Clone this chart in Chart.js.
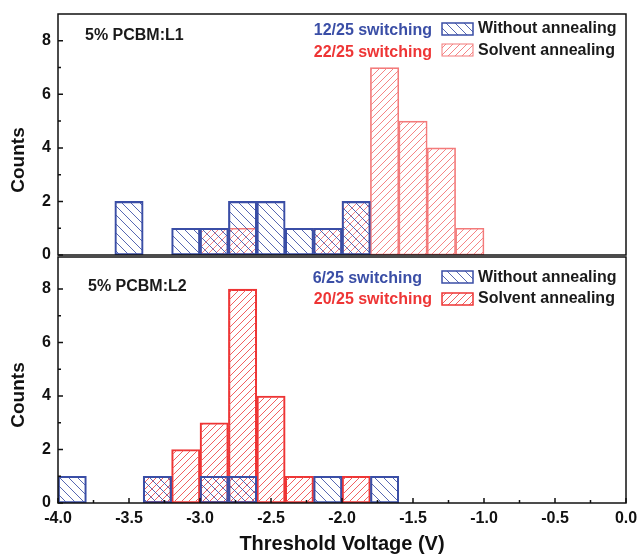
<!DOCTYPE html>
<html lang="en">
<head>
    <meta charset="UTF-8">
    <title>Threshold Voltage histogram</title>
    <script src="https://cdn.jsdelivr.net/npm/chart.js"></script>
    <style>
        body { margin: 0; background: #fff; }
        .wrap { position: relative; width: 639px; height: 554px; overflow: hidden; }
        canvas { position: absolute; left: 0; }
        #top { top: 0; z-index: 2; }
        #bottom { top: 256px; z-index: 1; }
    </style>
</head>
<body>
<div class="wrap">
    <canvas id="top" width="639" height="266"></canvas>
    <canvas id="bottom" width="639" height="298"></canvas>
</div>
<script>
    // bin centres of the 0.2 V bins (-4.0 ... -1.0)
    const binCenters = [-3.9, -3.7, -3.5, -3.3, -3.1, -2.9, -2.7, -2.5, -2.3, -2.1, -1.9, -1.7, -1.5, -1.3, -1.1];
    const l1Without = [0, 0, 2, 0, 1, 1, 2, 2, 1, 1, 2, 0, 0, 0, 0];
    const l1Solvent = [0, 0, 0, 0, 0, 1, 1, 0, 0, 1, 2, 7, 5, 4, 1];
    const l2Without = [1, 0, 0, 1, 0, 1, 1, 0, 0, 1, 0, 1, 0, 0, 0];
    const l2Solvent = [0, 0, 0, 1, 2, 3, 8, 4, 1, 0, 1, 0, 0, 0, 0];

    const BLUE = '#3a4ea6';
    const RED = '#ee3535';
    const FONT = '"Liberation Sans", Arial, sans-serif';

    function hatch(color, size, dir) {
        const c = document.createElement('canvas');
        c.width = c.height = size;
        const g = c.getContext('2d');
        g.strokeStyle = color;
        g.lineWidth = 1;
        g.beginPath();
        if (dir > 0) {          // "/"
            g.moveTo(-1, size + 1); g.lineTo(size + 1, -1);
            g.moveTo(-1, 1); g.lineTo(1, -1);
            g.moveTo(size - 1, size + 1); g.lineTo(size + 1, size - 1);
        } else {                // "\"
            g.moveTo(-1, -1); g.lineTo(size + 1, size + 1);
            g.moveTo(size - 1, -1); g.lineTo(size + 1, 1);
            g.moveTo(-1, size - 1); g.lineTo(1, size + 1);
        }
        g.stroke();
        return g.createPattern(c, 'repeat');
    }

    const blueHatch = hatch('rgba(58,78,166,0.85)', 9, -1);
    const redHatchLight = hatch('#f58585', 7, 1);
    const redHatch = hatch('#f16060', 7, 1);

    function toPoints(counts) {
        return binCenters.map((x, i) => ({ x: x, y: counts[i] ? counts[i] : null }));
    }

    function noPadding(s) {
        s.paddingTop = 0;
        s.paddingBottom = 0;
        s.paddingLeft = 0;
        s.paddingRight = 0;
    }

    // frame, inward ticks, annotations and legend boxes
    const decor = {
        id: 'decor',
        afterDatasetsDraw(chart, args, o) {
            const ctx = chart.ctx;
            const a = chart.chartArea;
            const xs = chart.scales.x, ys = chart.scales.y;
            ctx.save();
            ctx.strokeStyle = '#111';
            ctx.lineWidth = 1.5;
            ctx.strokeRect(a.left, a.top, a.right - a.left, a.bottom - a.top);

            ctx.beginPath();
            ys.ticks.forEach(t => {
                if (t.value > 8.5) return;
                const py = ys.getPixelForValue(t.value);
                const len = t.value % 2 === 0 ? 5 : 3;
                ctx.moveTo(a.left, py); ctx.lineTo(a.left + len, py);
            });
            if (o.xTicks) {
                xs.ticks.forEach(t => {
                    const px = xs.getPixelForValue(t.value);
                    const major = Math.abs(t.value * 2 - Math.round(t.value * 2)) < 1e-6;
                    ctx.moveTo(px, a.bottom); ctx.lineTo(px, a.bottom - (major ? 5 : 3));
                });
            }
            ctx.stroke();

            // text annotations
            ctx.font = 'bold 16px ' + FONT;
            ctx.textBaseline = 'alphabetic';
            o.texts.forEach(t => {
                ctx.fillStyle = t.color;
                ctx.textAlign = t.align || 'left';
                ctx.fillText(t.text, a.left + t.dx, a.top + t.dy);
            });

            // legend swatches
            o.boxes.forEach(b => {
                ctx.fillStyle = b.fill;
                ctx.fillRect(a.left + b.dx, a.top + b.dy, 31, 12);
                ctx.strokeStyle = b.color;
                ctx.lineWidth = b.lw;
                ctx.strokeRect(a.left + b.dx, a.top + b.dy, 31, 12);
            });

            // y axis title
            ctx.save();
            ctx.translate(18.5, o.titleY);
            ctx.rotate(-Math.PI / 2);
            ctx.font = 'bold 19px ' + FONT;
            ctx.fillStyle = '#111';
            ctx.textAlign = 'center';
            ctx.textBaseline = 'middle';
            ctx.fillText('Counts', 0, 0);
            ctx.restore();
            ctx.restore();
        }
    };

    function yAxis(max) {
        return {
            min: 0,
            max: max,
            grid: { display: false, drawTicks: false },
            border: { display: false },
            ticks: {
                stepSize: 1,
                includeBounds: false,
                padding: 7,
                color: '#111',
                font: { family: FONT, size: 16, weight: 'bold' },
                callback: v => (v % 2 === 0 ? v : '')
            },
            afterFit: s => { s.width = 58; noPadding(s); }
        };
    }

    const barBase = { grouped: false, barPercentage: 1, categoryPercentage: 1, borderSkipped: false };

    new Chart(document.getElementById('top'), {
        type: 'bar',
        data: {
            datasets: [
                Object.assign({ label: 'Without annealing', data: toPoints(l1Without),
                    backgroundColor: blueHatch, borderColor: BLUE, borderWidth: 1.5 }, barBase),
                Object.assign({ label: 'Solvent annealing', data: toPoints(l1Solvent),
                    backgroundColor: redHatchLight, borderColor: '#f37a7a', borderWidth: 1 }, barBase)
            ]
        },
        options: {
            responsive: false,
            animation: false,
            layout: { padding: { top: 14, right: 13, bottom: 11, left: 0 } },
            plugins: {
                legend: { display: false },
                tooltip: { enabled: false },
                decor: {
                    titleY: 160,
                    xTicks: false,
                    texts: [
                        { text: '5% PCBM:L1', dx: 27, dy: 26, color: '#1a1a1a' },
                        { text: '12/25 switching', dx: 374, dy: 21, color: BLUE, align: 'right' },
                        { text: '22/25 switching', dx: 374, dy: 43, color: RED, align: 'right' },
                        { text: 'Without annealing', dx: 420, dy: 19, color: '#1a1a1a' },
                        { text: 'Solvent annealing', dx: 420, dy: 41, color: '#1a1a1a' }
                    ],
                    boxes: [
                        { dx: 384, dy: 9, fill: blueHatch, color: BLUE, lw: 1.5 },
                        { dx: 384, dy: 30, fill: redHatchLight, color: '#f37a7a', lw: 1 }
                    ]
                }
            },
            scales: {
                x: { type: 'linear', min: -4, max: 0, offset: false, display: false, ticks: { stepSize: 0.25 } },
                y: yAxis(9)
            }
        },
        plugins: [decor]
    });

    new Chart(document.getElementById('bottom'), {
        type: 'bar',
        data: {
            datasets: [
                Object.assign({ label: 'Without annealing', data: toPoints(l2Without),
                    backgroundColor: blueHatch, borderColor: BLUE, borderWidth: 1.5 }, barBase),
                Object.assign({ label: 'Solvent annealing', data: toPoints(l2Solvent),
                    backgroundColor: redHatch, borderColor: RED, borderWidth: 1.5 }, barBase)
            ]
        },
        options: {
            responsive: false,
            animation: false,
            layout: { padding: { top: 1, right: 13, bottom: 0, left: 0 } },
            plugins: {
                legend: { display: false },
                tooltip: { enabled: false },
                decor: {
                    titleY: 139,
                    xTicks: true,
                    texts: [
                        { text: '5% PCBM:L2', dx: 30, dy: 34, color: '#1a1a1a' },
                        { text: '6/25 switching', dx: 364, dy: 26, color: BLUE, align: 'right' },
                        { text: '20/25 switching', dx: 374, dy: 47, color: RED, align: 'right' },
                        { text: 'Without annealing', dx: 420, dy: 25, color: '#1a1a1a' },
                        { text: 'Solvent annealing', dx: 420, dy: 46, color: '#1a1a1a' }
                    ],
                    boxes: [
                        { dx: 384, dy: 14, fill: blueHatch, color: BLUE, lw: 1.5 },
                        { dx: 384, dy: 36, fill: redHatch, color: RED, lw: 1.5 }
                    ]
                }
            },
            scales: {
                x: {
                    type: 'linear',
                    min: -4,
                    max: 0,
                    offset: false,
                    grid: { display: false, drawTicks: false },
                    border: { display: false },
                    ticks: {
                        stepSize: 0.25,
                        autoSkip: false,
                        maxRotation: 0,
                        padding: 6,
                        color: '#111',
                        font: { family: FONT, size: 16, weight: 'bold' },
                        callback: v => (Math.abs(v * 2 - Math.round(v * 2)) < 1e-6 ? v.toFixed(1) : '')
                    },
                    title: {
                        display: true,
                        text: 'Threshold Voltage (V)',
                        color: '#111',
                        font: { family: FONT, size: 20, weight: 'bold', lineHeight: 1 },
                        padding: { top: 0, bottom: 0 }
                    },
                    afterFit: s => { s.height = 51; noPadding(s); }
                },
                y: yAxis(9.2)
            }
        },
        plugins: [decor]
    });
</script>
</body>
</html>
